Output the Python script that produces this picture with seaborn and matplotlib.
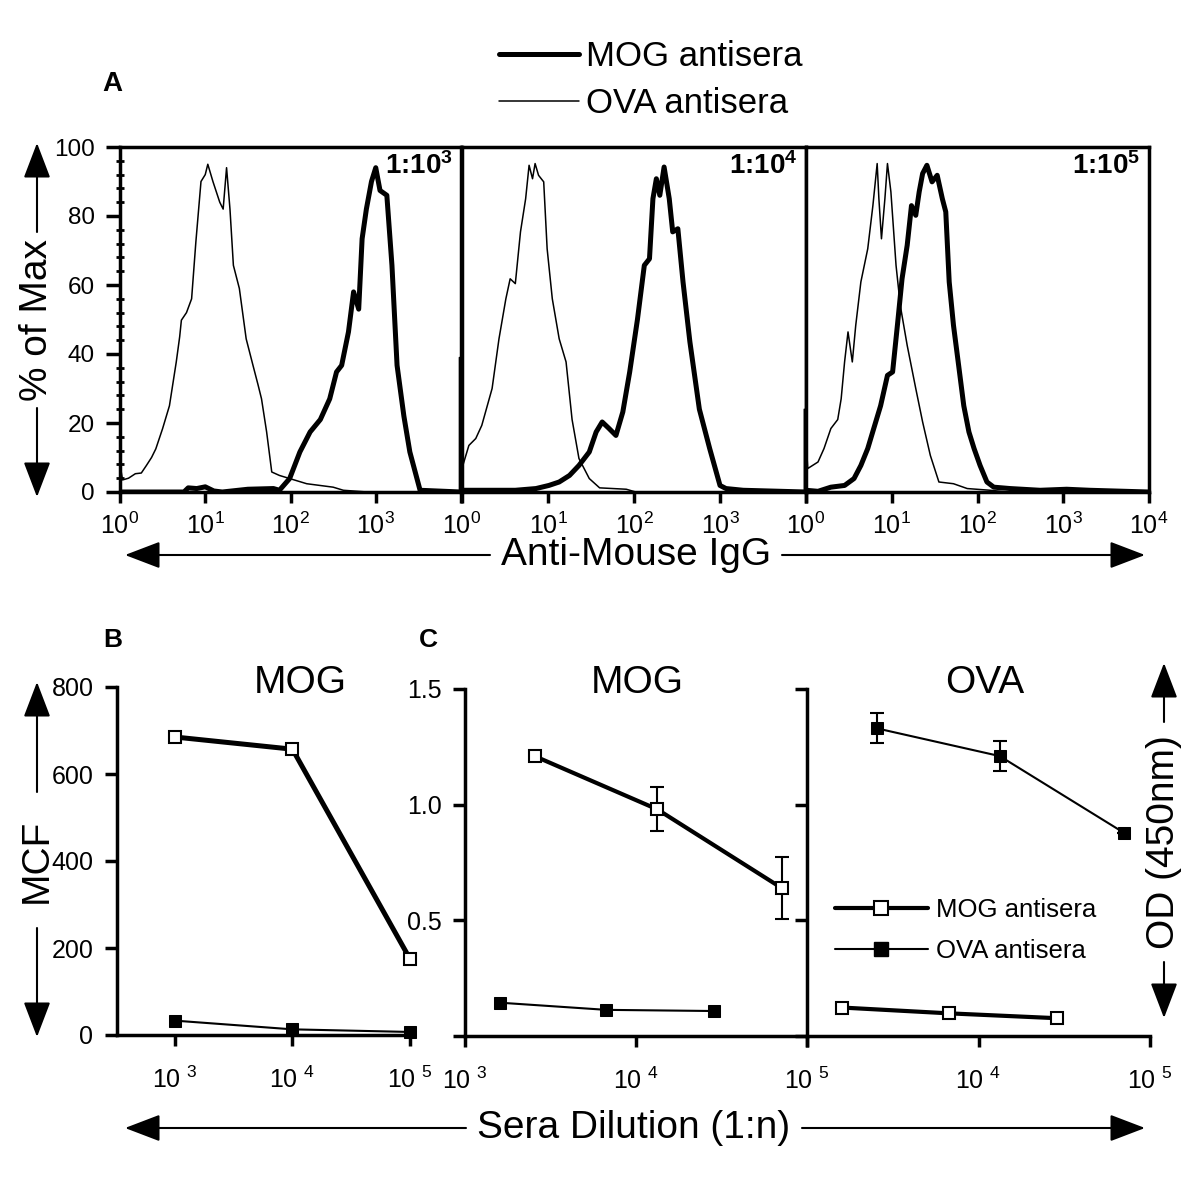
import numpy as np
import pandas as pd
import seaborn as sns
import matplotlib.pyplot as plt
from matplotlib.lines import Line2D
from matplotlib.patches import FancyArrowPatch
from matplotlib.ticker import FixedLocator, NullLocator, AutoMinorLocator, LogLocator

# ---- data -------------------------------------------------------------
# A: flow histograms, x in log10 decades of fluorescence, y in % of max
a1_ova_x = [0.0, 0.03, 0.10, 0.18, 0.25, 0.31, 0.37, 0.42, 0.50, 0.58, 0.66, 0.70, 0.72, 0.78, 0.84,
            0.89, 0.95, 1.00, 1.03, 1.09, 1.17, 1.21, 1.25, 1.29, 1.33, 1.40, 1.48, 1.56, 1.62, 1.66,
            1.72, 1.78, 1.87, 1.99, 2.19, 2.50, 2.62, 2.90, 4.0]
a1_ova_y = [8, 3.5, 4.0, 5.3, 5.5, 7.7, 10, 12.5, 18.4, 25, 37.7, 45, 49.8, 52, 56,
            72.5, 90, 92, 95, 90, 84, 82, 94, 82, 65.7, 59, 44.4, 36.7, 31, 27,
            17.4, 5.8, 4.8, 3.9, 2.4, 1.4, 0.5, 0, 0]
a1_mog_x = [0.0, 0.75, 0.80, 0.90, 1.0, 1.1, 1.2, 1.5, 1.8, 1.87, 1.99, 2.11, 2.23, 2.35, 2.46, 2.54,
            2.60, 2.68, 2.74, 2.80, 2.84, 2.89, 2.95, 3.00, 3.05, 3.13, 3.19, 3.25, 3.33, 3.40, 3.52, 4.0]
a1_mog_y = [0, 0, 1.2, 1.0, 1.5, 0.3, 0, 0.8, 1.0, 0.5, 3.9, 11.6, 17.4, 21, 27, 34.8,
            36.7, 46.4, 58, 53, 73.4, 82, 90, 94, 87.4, 86, 65.7, 36.7, 22, 11.6, 0.5, 0]

a2_ova_x = [-0.03, -0.03, 0.01, 0.08, 0.16, 0.23, 0.35, 0.43, 0.51, 0.56, 0.62, 0.68, 0.74, 0.78, 0.82,
            0.85, 0.89, 0.95, 0.99, 1.05, 1.13, 1.21, 1.28, 1.36, 1.48, 1.60, 1.91, 2.02, 4.0]
a2_ova_y = [0, 39, 7.7, 13.5, 15.5, 19.3, 30, 44.4, 56, 61.8, 60.4, 75.4, 85, 94.7, 90.8,
            95.2, 91.8, 89.9, 70.5, 56, 44.4, 37.7, 21, 9.7, 3.9, 1.2, 0.8, 0, 0]
a2_mog_x = [0.0, 0.62, 0.86, 1.01, 1.13, 1.25, 1.36, 1.48, 1.56, 1.63, 1.71, 1.79, 1.87, 1.95, 2.04,
            2.12, 2.18, 2.22, 2.26, 2.30, 2.35, 2.41, 2.45, 2.51, 2.57, 2.65, 2.76, 2.88, 3.00, 3.07,
            3.27, 4.0]
a2_mog_y = [0.5, 0.5, 1, 1.9, 2.9, 4.8, 7.7, 11.6, 17.4, 20.3, 18.4, 16.4, 23.2, 34.8, 50,
            65.7, 67.6, 85, 90.8, 86, 94.2, 85, 75.4, 76.3, 60.9, 43.5, 24, 12.6, 1.9, 1,
            0.5, 0]

a3_ova_x = [-0.02, -0.02, 0.02, 0.14, 0.21, 0.29, 0.37, 0.41, 0.45, 0.49, 0.54, 0.58, 0.64, 0.72, 0.78,
            0.83, 0.85, 0.88, 0.92, 0.95, 0.99, 1.05, 1.10, 1.18, 1.28, 1.36, 1.45, 1.55, 1.72, 1.88,
            2.15, 2.35, 4.0]
a3_ova_y = [0, 24, 6.8, 8.7, 12.6, 18.4, 21, 27, 37.7, 46.4, 37.7, 48.3, 60.9, 70.5, 83,
            95.2, 85, 73.4, 85, 95.2, 87, 65.7, 54, 42.5, 30, 20.3, 10.6, 2.9, 2.4, 1,
            0.5, 0, 0]
a3_mog_x = [0.0, 0.14, 0.29, 0.45, 0.56, 0.64, 0.72, 0.79, 0.87, 0.95, 1.01, 1.07, 1.12, 1.18, 1.23,
            1.28, 1.32, 1.36, 1.41, 1.47, 1.53, 1.59, 1.63, 1.67, 1.72, 1.78, 1.84, 1.90, 1.96, 2.03,
            2.11, 2.19, 2.38, 2.73, 3.04, 3.31, 4.0]
a3_mog_y = [0.5, 0.2, 1.4, 1.9, 3.9, 7.7, 12.6, 18.4, 25, 33.8, 34.8, 49.3, 61.8, 71.5, 83,
            80.2, 87, 92.3, 94.7, 89.9, 91.8, 85, 81.2, 60.9, 48.3, 36.7, 25, 17.4, 12.6, 7.7,
            2.9, 1.4, 1, 0.5, 0.8, 0.5, 0]

dilution_labels = [r'1:10$^{\mathbf{3}}$', r'1:10$^{\mathbf{4}}$', r'1:10$^{\mathbf{5}}$']

# B: mean channel fluorescence vs sera dilution
b_dil = [1e3, 1e4, 1e5]
b_mog = [685, 657, 175]
b_ova = [33, 13, 7]

# C: ELISA OD(450nm)
c_dil_a = [2550, 13300, 71000]
c_dil_b = [1600, 6700, 28500]
cl_mog = [1.21, 0.98, 0.64]
cl_mog_err = [0, 0.095, 0.135]
cl_ova = [0.144, 0.113, 0.108]
cr_ova = [1.33, 1.21, 0.877]
cr_ova_err = [0.065, 0.064, 0]
cr_mog = [0.123, 0.098, 0.077]

# ---- style ------------------------------------------------------------
sns.set_style('ticks')
plt.rcParams['font.family'] = ['Liberation Sans', 'DejaVu Sans']
plt.rcParams['mathtext.fontset'] = 'custom'
plt.rcParams['mathtext.rm'] = 'Liberation Sans'
plt.rcParams['mathtext.it'] = 'Liberation Sans:italic'
plt.rcParams['mathtext.bf'] = 'Liberation Sans:bold'
for k in ['text.color', 'axes.edgecolor', 'axes.labelcolor', 'xtick.color', 'ytick.color']:
    plt.rcParams[k] = 'black'

W, H = 1200, 1197
fig = plt.figure(figsize=(W / 100, H / 100), dpi=100)


def box(l, t, r, b):
    return [l / W, 1 - b / H, (r - l) / W, (b - t) / H]


def arrow(x0, y0, x1, y1):
    fig.add_artist(FancyArrowPatch((x0 / W, 1 - y0 / H), (x1 / W, 1 - y1 / H),
                                   transform=fig.transFigure, color='black', lw=1.5,
                                   arrowstyle='-|>,head_length=1.1,head_width=0.42',
                                   mutation_scale=20, shrinkA=0, shrinkB=0))


def ftext(x, y, s, **kw):
    fig.text(x / W, 1 - y / H, s, **kw)


# ---- A ---------------------------------------------------------------
axA = [fig.add_axes(box(120, 147, 461, 492)),
       fig.add_axes(box(462, 147, 806, 492)),
       fig.add_axes(box(806, 147, 1149, 492))]
hist = [(a1_ova_x, a1_ova_y, a1_mog_x, a1_mog_y),
        (a2_ova_x, a2_ova_y, a2_mog_x, a2_mog_y),
        (a3_ova_x, a3_ova_y, a3_mog_x, a3_mog_y)]

for i, (ax, (ox, oy, mx, my)) in enumerate(zip(axA, hist)):
    sns.lineplot(x=10 ** np.array(ox), y=oy, ax=ax, color='black', lw=1.1,
                 estimator=None, sort=False, clip_on=False)
    sns.lineplot(x=10 ** np.array(mx), y=my, ax=ax, color='black', lw=3.6,
                 estimator=None, sort=False)
    ax.set_xscale('log')
    ax.set_xlim(1, 1e4)
    ax.set_ylim(0, 100)
    for s in ax.spines.values():
        s.set_linewidth(2.5)
    ax.xaxis.set_major_locator(FixedLocator([1, 10, 100, 1000, 10000]))
    labs = ['10$^{%d}$' % k for k in range(5)]
    if i < 2:
        labs[4] = ''
    ax.set_xticklabels(labs)
    ax.xaxis.set_minor_locator(LogLocator(subs=range(2, 10)))
    ax.tick_params(axis='x', which='major', direction='out', length=8, width=2.5,
                   labelsize=18, pad=7)
    ax.tick_params(axis='x', which='minor', direction='inout', length=6, width=2, labelbottom=False)
    if i == 0:
        ax.yaxis.set_major_locator(FixedLocator([0, 20, 40, 60, 80, 100]))
        ax.yaxis.set_minor_locator(AutoMinorLocator(5))
        ax.tick_params(axis='y', which='major', direction='out', length=10, width=2.5,
                       labelsize=17.5, pad=8)
        ax.tick_params(axis='y', which='minor', direction='inout', length=6, width=2)
    else:
        ax.tick_params(axis='y', which='both', left=False, labelleft=False)
        ax.yaxis.set_minor_locator(NullLocator())
    ax.set_xlabel('')
    ax.set_ylabel('')
    ax.text(0.975, 0.985, dilution_labels[i], transform=ax.transAxes, ha='right', va='top',
            fontsize=20, fontweight='bold')

fig.legend([Line2D([], [], color='black', lw=3.6), Line2D([], [], color='black', lw=1.1)],
           ['MOG antisera', 'OVA antisera'], loc='upper left',
           bbox_to_anchor=(499 / W, 1 - 40 / H), frameon=False, fontsize=25,
           handlelength=2.3, handletextpad=0.2, labelspacing=0.4, borderpad=0, borderaxespad=0)

ftext(112, 84, 'A', fontsize=20, fontweight='bold', ha='center', va='center')
ftext(37, 320, '% of Max', fontsize=28, rotation=90, ha='center', va='center')
arrow(37, 232, 37, 143)
arrow(37, 408, 37, 497)
ftext(636, 555, 'Anti-Mouse IgG', fontsize=28, ha='center', va='center')
arrow(490, 555, 125, 555)
arrow(782, 555, 1145, 555)

# ---- B ---------------------------------------------------------------
axB = fig.add_axes(box(117, 687, 413, 1035))
sns.lineplot(x=b_dil, y=b_ova, ax=axB, color='black', lw=1.5, marker='s', ms=9,
             mfc='black', mec='black', clip_on=False)
sns.lineplot(x=b_dil, y=b_mog, ax=axB, color='black', lw=3.6, marker='s', ms=9,
             mfc='white', mec='black', mew=1.5, clip_on=False)
axB.set_xscale('log')
axB.set_xlim(10 ** 2.506, 10 ** 5.026)
axB.set_ylim(0, 800)
axB.set_yticks([0, 200, 400, 600, 800])
axB.xaxis.set_major_locator(FixedLocator(b_dil))
axB.set_xticklabels(['10 $^{3}$', '10 $^{4}$', '10 $^{5}$'])
ftext(300, 683, 'MOG', fontsize=28, ha='center', va='center')
ftext(113, 640, 'B', fontsize=19, fontweight='bold', ha='center', va='center')

# ---- C ---------------------------------------------------------------
axCL = fig.add_axes(box(465, 689, 807, 1036))
axCR = fig.add_axes(box(807, 689, 1150, 1036))

axCL.errorbar(c_dil_a, cl_mog, yerr=cl_mog_err, fmt='none', ecolor='black', elinewidth=1.5,
              capsize=5, capthick=1.5, zorder=1)
sns.lineplot(x=c_dil_b, y=cl_ova, ax=axCL, color='black', lw=1.5, marker='s', ms=9,
             mfc='black', mec='black')
sns.lineplot(x=c_dil_a, y=cl_mog, ax=axCL, color='black', lw=3.0, marker='s', ms=9,
             mfc='white', mec='black', mew=1.5)

axCR.errorbar(c_dil_a, cr_ova, yerr=cr_ova_err, fmt='none', ecolor='black', elinewidth=1.5,
              capsize=5, capthick=1.5, zorder=1)
sns.lineplot(x=c_dil_a, y=cr_ova, ax=axCR, color='black', lw=1.5, marker='s', ms=9,
             mfc='black', mec='black')
sns.lineplot(x=c_dil_b, y=cr_mog, ax=axCR, color='black', lw=3.0, marker='s', ms=9,
             mfc='white', mec='black', mew=1.5)

for ax in (axCL, axCR):
    ax.set_xscale('log')
    ax.set_xlim(1e3, 1e5)
    ax.set_ylim(0, 1.5)
    ax.set_yticks([0, 0.5, 1.0, 1.5])
    ax.xaxis.set_major_locator(FixedLocator([1e3, 1e4, 1e5]))
axCL.set_yticklabels(['', '0.5', '1.0', '1.5'])
axCR.set_yticklabels([])
axCL.set_xticklabels(['10 $^{3}$', '10 $^{4}$', '10 $^{5}$'])
axCR.set_xticklabels(['', '10 $^{4}$', '10 $^{5}$'])

for ax in (axB, axCL, axCR):
    ax.spines['top'].set_visible(False)
    ax.spines['right'].set_visible(False)
    ax.spines['left'].set_linewidth(2.5)
    ax.spines['bottom'].set_linewidth(2.5)
    ax.xaxis.set_minor_locator(NullLocator())
    ax.yaxis.set_minor_locator(NullLocator())
    ax.tick_params(axis='y', direction='out', length=9, width=2.5, labelsize=18, pad=8)
    ax.tick_params(axis='x', direction='out', length=8, width=2.5, labelsize=18, pad=15)
    ax.set_xlabel('')
    ax.set_ylabel('')

axCR.legend([Line2D([], [], color='black', lw=3.0, marker='s', ms=10, mfc='white', mec='black', mew=1.5),
             Line2D([], [], color='black', lw=1.5, marker='s', ms=10, mfc='black', mec='black')],
            ['MOG antisera', 'OVA antisera'], loc='upper left',
            bbox_to_anchor=(835 / W, 1 - 898 / H), bbox_transform=fig.transFigure,
            frameon=False, fontsize=18.5, handlelength=3.6, handletextpad=0.35,
            labelspacing=0.65, borderpad=0, borderaxespad=0)

ftext(637, 683, 'MOG', fontsize=28, ha='center', va='center')
ftext(985, 683, 'OVA', fontsize=28, ha='center', va='center')
ftext(428, 640, 'C', fontsize=19, fontweight='bold', ha='center', va='center')

ftext(37, 861, 'MCF', fontsize=28, rotation=90, ha='center', va='center')
arrow(37, 792, 37, 682)
arrow(37, 928, 37, 1037)

ftext(1164, 842, 'OD (450nm)', fontsize=28, rotation=90, ha='center', va='center')
arrow(1164, 722, 1164, 663)
arrow(1164, 962, 1164, 1018)

ftext(634, 1128, 'Sera Dilution (1:n)', fontsize=28, ha='center', va='center')
arrow(466, 1128, 125, 1128)
arrow(802, 1128, 1145, 1128)

fig.savefig('out.png', dpi=100)
